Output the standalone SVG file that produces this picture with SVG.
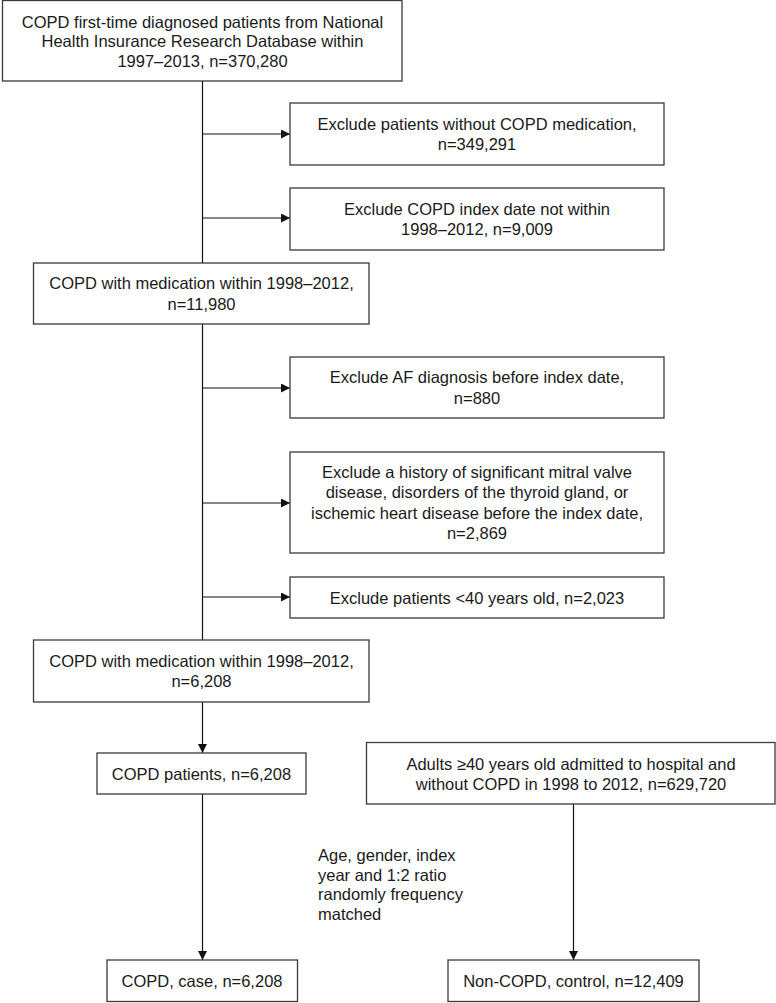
<svg xmlns="http://www.w3.org/2000/svg" width="776" height="1003" viewBox="0 0 776 1003">
<style>
.box{fill:#fff;stroke:#3a3a3a;stroke-width:1.3}
.t{font-family:"Liberation Sans",Arial,sans-serif;font-size:16.5px;fill:#1a1a1a;text-anchor:middle}
.lbl{font-family:"Liberation Sans",Arial,sans-serif;font-size:16.5px;fill:#1a1a1a}
.ln{fill:none;stroke:#111;stroke-width:1.2}
</style>
<defs>
<marker id="ah" markerUnits="userSpaceOnUse" markerWidth="10" markerHeight="10" refX="9" refY="4.5" orient="auto">
<path d="M0,0 L9,4.5 L0,9 z" fill="#111"/>
</marker>
</defs>
<rect width="776" height="1003" fill="#fff"/>
<g id="connectors">
<path class="ln" d="M202.5,81 V263"/>
<path class="ln" d="M202.5,324 V640"/>
<path class="ln" d="M202.5,134 H290" marker-end="url(#ah)"/>
<path class="ln" d="M202.5,218 H290" marker-end="url(#ah)"/>
<path class="ln" d="M202.5,388 H290" marker-end="url(#ah)"/>
<path class="ln" d="M202.5,503 H290" marker-end="url(#ah)"/>
<path class="ln" d="M202.5,597 H290" marker-end="url(#ah)"/>
<path class="ln" d="M202.5,702 V753" marker-end="url(#ah)"/>
<path class="ln" d="M202.5,794 V960" marker-end="url(#ah)"/>
<path class="ln" d="M573.5,804 V960" marker-end="url(#ah)"/>
</g>
<g id="nA">
<rect class="box" x="2.5" y="0.5" width="399.5" height="80.5"/>
<text class="t" x="202.5" y="27.5">COPD first-time diagnosed patients from National</text>
<text class="t" x="202.5" y="47">Health Insurance Research Database within</text>
<text class="t" x="202.5" y="66.5">1997–2013, n=370,280</text>
</g>
<g id="n1">
<rect class="box" x="290" y="103" width="374" height="62"/>
<text class="t" x="477" y="129.75">Exclude patients without COPD medication,</text>
<text class="t" x="477" y="150.25">n=349,291</text>
</g>
<g id="n2">
<rect class="box" x="290" y="188" width="374" height="62"/>
<text class="t" x="477" y="214.75">Exclude COPD index date not within</text>
<text class="t" x="477" y="235.25">1998–2012, n=9,009</text>
</g>
<g id="nB">
<rect class="box" x="33.5" y="263" width="335.5" height="61"/>
<text class="t" x="201.5" y="289.25">COPD with medication within 1998–2012,</text>
<text class="t" x="201.5" y="309.75">n=11,980</text>
</g>
<g id="n3">
<rect class="box" x="290" y="357" width="374" height="61"/>
<text class="t" x="477" y="383.25">Exclude AF diagnosis before index date,</text>
<text class="t" x="477" y="403.75">n=880</text>
</g>
<g id="n4">
<rect class="box" x="290" y="452" width="374" height="101"/>
<text class="t" x="477" y="477.75">Exclude a history of significant mitral valve</text>
<text class="t" x="477" y="498.25">disease, disorders of the thyroid gland, or</text>
<text class="t" x="477" y="518.75">ischemic heart disease before the index date,</text>
<text class="t" x="477" y="539.25">n=2,869</text>
</g>
<g id="n5">
<rect class="box" x="290" y="577" width="374" height="41"/>
<text class="t" x="477" y="603.5">Exclude patients &lt;40 years old, n=2,023</text>
</g>
<g id="nC">
<rect class="box" x="33.5" y="640" width="335.5" height="62"/>
<text class="t" x="201.5" y="666.75">COPD with medication within 1998–2012,</text>
<text class="t" x="201.5" y="687.25">n=6,208</text>
</g>
<g id="nD">
<rect class="box" x="97" y="753" width="209" height="41"/>
<text class="t" x="201.5" y="779.5">COPD patients, n=6,208</text>
</g>
<g id="nE">
<rect class="box" x="366.5" y="742.5" width="408.5" height="61.5"/>
<text class="t" x="571" y="769.5">Adults ≥40 years old admitted to hospital and</text>
<text class="t" x="571" y="790">without COPD in 1998 to 2012, n=629,720</text>
</g>
<g id="label">
<text class="lbl" x="318" y="861">Age, gender, index</text>
<text class="lbl" x="318" y="880.5">year and 1:2 ratio</text>
<text class="lbl" x="318" y="900">randomly frequency</text>
<text class="lbl" x="318" y="919.5">matched</text>
</g>
<g id="nF">
<rect class="box" x="107" y="960" width="190.5" height="41.5"/>
<text class="t" x="202" y="987">COPD, case, n=6,208</text>
</g>
<g id="nG">
<rect class="box" x="448" y="960" width="251" height="41.5"/>
<text class="t" x="573.5" y="987">Non-COPD, control, n=12,409</text>
</g>
</svg>
